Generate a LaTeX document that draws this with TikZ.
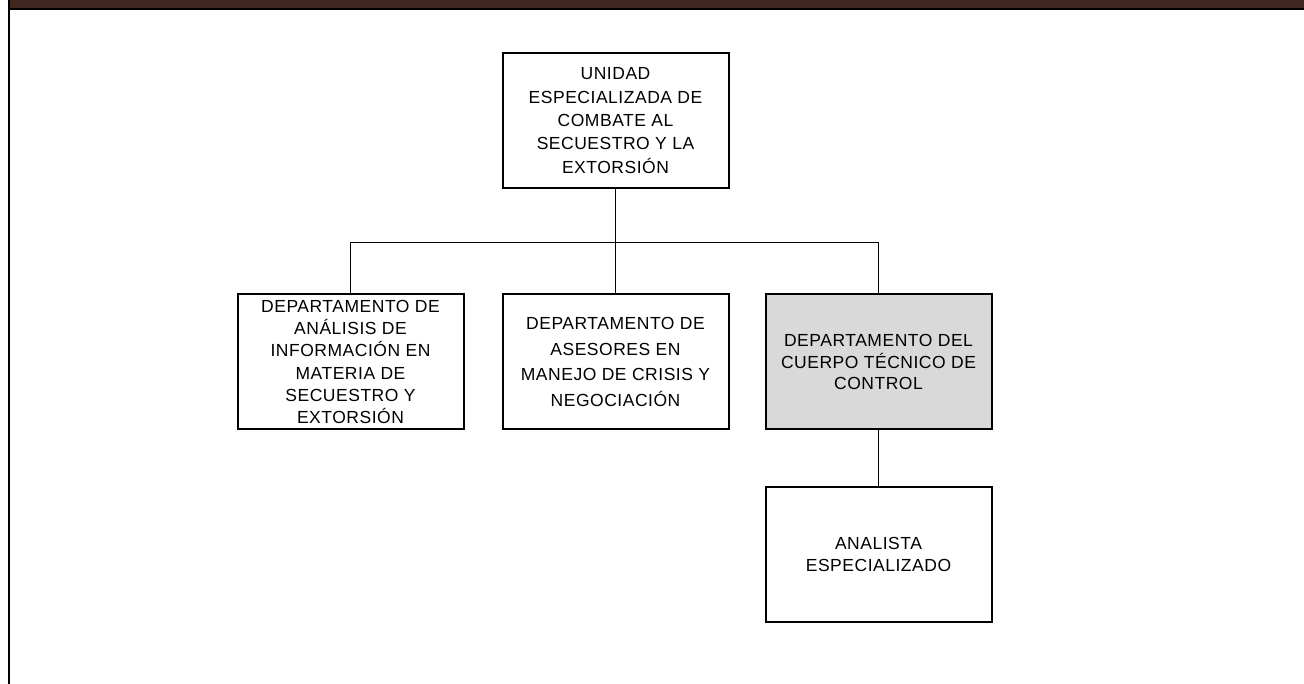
\documentclass[tikz,border=0pt]{standalone}
\usepackage{fontspec}
\setmainfont{Liberation Sans}[LetterSpace=3]
\usepackage{tikz}
\usetikzlibrary{arrows}
\definecolor{barbrown}{RGB}{63,39,32}
\definecolor{boxgray}{RGB}{217,217,217}
\tikzset{
  unitbox/.style={draw=black, line width=2pt, fill=white, minimum width=226pt,
    minimum height=135pt, inner sep=0pt, align=center,
    font=\fontsize{17.5}{23.3}\selectfont},
  leading/.style={font=\fontsize{17.5}{#1}\selectfont},
  link/.style={draw=black, line width=0.9pt}
}

\begin{document}
\begin{tikzpicture}[x=1pt, y=-1pt]
  \useasboundingbox (0,0) rectangle (1304,684);
  % page frame
  \fill[barbrown] (9,0) rectangle (1304,8);
  \fill[black] (8,8) rectangle (1304,10);
  \fill[black] (8,0) rectangle (10,684);
  % boxes
  \node[unitbox] (unidad) at (615.5,120.5) {UNIDAD\\ESPECIALIZADA DE\\COMBATE AL\\SECUESTRO Y LA\\EXTORSIÓN};
  \node[unitbox, leading=22.3] (analisis) at (350.5,362) {DEPARTAMENTO DE\\ANÁLISIS DE\\INFORMACIÓN EN\\MATERIA DE\\SECUESTRO Y\\EXTORSIÓN};
  \node[unitbox, leading=25.5] (asesores) at (615.5,362) {DEPARTAMENTO DE\\ASESORES EN\\MANEJO DE CRISIS Y\\NEGOCIACIÓN};
  \node[unitbox, leading=21.5, fill=boxgray] (cuerpo) at (878.5,362) {DEPARTAMENTO DEL\\CUERPO TÉCNICO DE\\CONTROL};
  \node[unitbox, leading=21.7] (analista) at (878.5,554.5) {ANALISTA\\ESPECIALIZADO};
  % connectors
  \coordinate (bus) at (615.5,242.5);
  \draw[link] (unidad.south) -- (asesores.north);
  \draw[link] (analisis.north) |- (bus) -| (cuerpo.north);
  \draw[link] (cuerpo.south) -- (analista.north);
\end{tikzpicture}
\end{document}
